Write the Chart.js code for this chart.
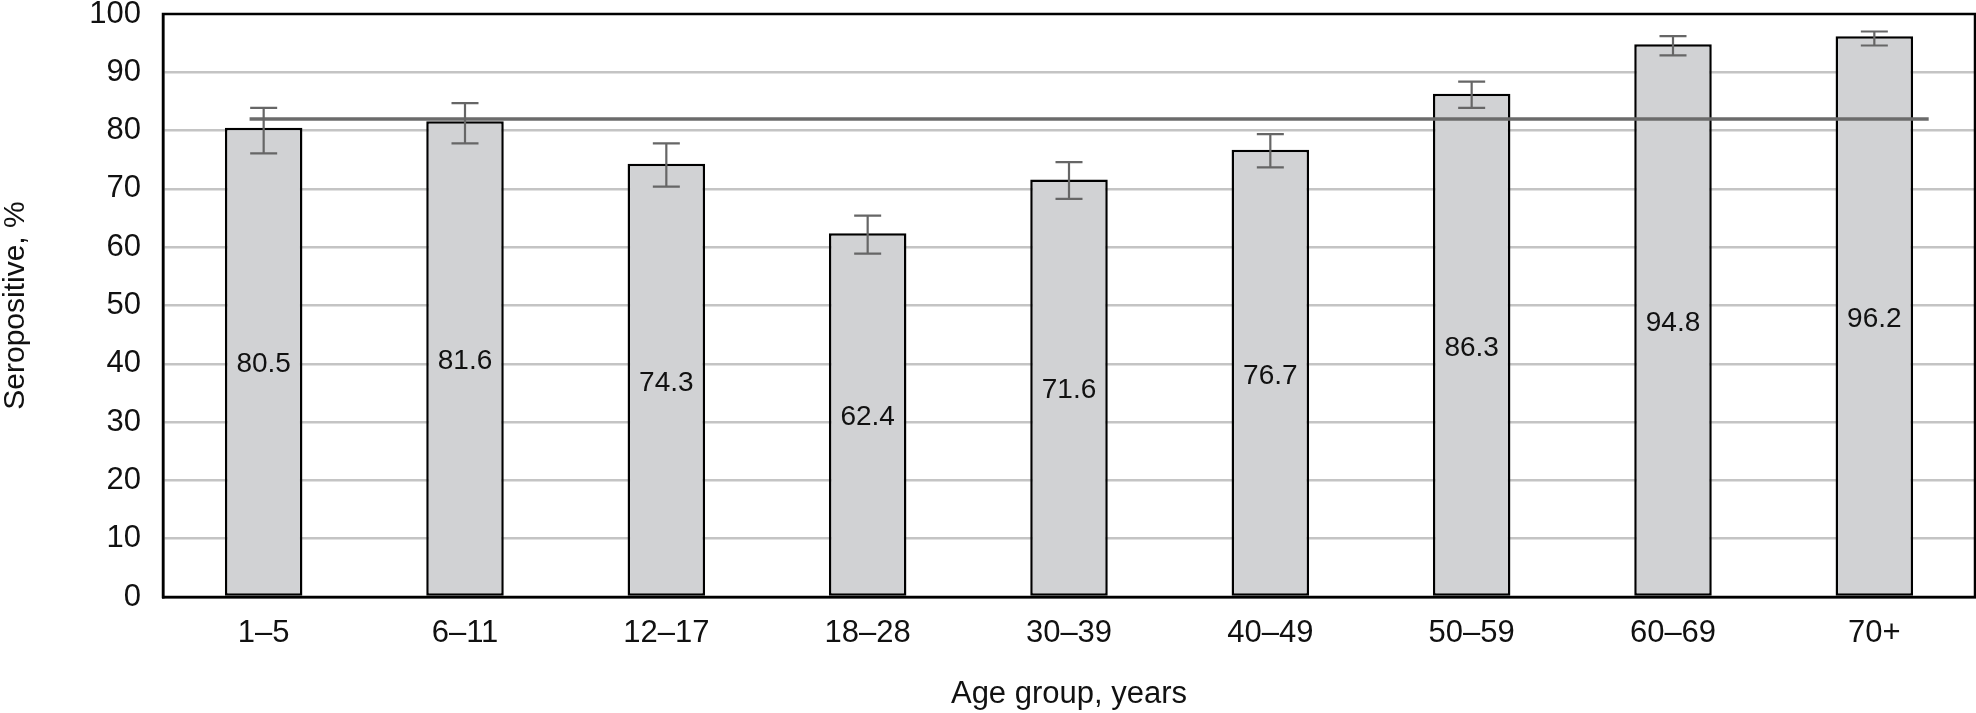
<!DOCTYPE html>
<html>
<head>
<meta charset="utf-8">
<script src="https://cdn.jsdelivr.net/npm/chart.js@4.4.1/dist/chart.umd.min.js"></script>
<style>
  html, body { margin: 0; padding: 0; background: #fff; }
  #wrap { width: 1976px; height: 713px; }
</style>
</head>
<body>
<div id="wrap"><canvas id="chart" width="1976" height="713"></canvas></div>
<script>
// values
const ageGroups = ["1\u20135", "6\u201311", "12\u201317", "18\u201328", "30\u201339", "40\u201349", "50\u201359", "60\u201369", "70+"];
const seropositive = [80.5, 81.6, 74.3, 62.4, 71.6, 76.7, 86.3, 94.8, 96.2];
const ciLow  = [76.1, 77.8, 70.4, 58.9, 68.3, 73.7, 83.9, 92.9, 94.6];
const ciHigh = [83.9, 84.7, 77.8, 65.4, 74.6, 79.4, 88.4, 96.2, 97.0];
const overallLevel = 82.0;
// reference line runs from just left of the first bar to past the last one (category index units)
const overallFrom = -0.07;
const overallTo = 8.27;
const yTicks = [0, 10, 20, 30, 40, 50, 60, 70, 80, 90, 100];

const FONT = '"Liberation Sans", Arial, sans-serif';

const overlay = {
  id: 'overlay',
  afterDatasetsDraw(chart) {
    const ctx = chart.ctx;
    const x = chart.scales.x;
    const y = chart.scales.y;
    const meta = chart.getDatasetMeta(0);
    ctx.save();

    // overall level line, on top of the bars
    const yl = y.getPixelForValue(overallLevel);
    ctx.strokeStyle = '#6b6b6b';
    ctx.lineWidth = 3.5;
    ctx.beginPath();
    ctx.moveTo(x.getPixelForValue(overallFrom), yl);
    ctx.lineTo(x.getPixelForValue(overallTo), yl);
    ctx.stroke();

    // 95% CI whiskers
    ctx.strokeStyle = '#666666';
    ctx.lineWidth = 2.2;
    meta.data.forEach((bar, i) => {
      const lo = y.getPixelForValue(ciLow[i]);
      const hi = y.getPixelForValue(ciHigh[i]);
      const half = 13.5;
      ctx.beginPath();
      ctx.moveTo(bar.x, lo); ctx.lineTo(bar.x, hi);
      ctx.moveTo(bar.x - half, lo); ctx.lineTo(bar.x + half, lo);
      ctx.moveTo(bar.x - half, hi); ctx.lineTo(bar.x + half, hi);
      ctx.stroke();
    });

    // value labels in the middle of each bar
    ctx.fillStyle = '#111';
    ctx.font = '28px ' + FONT;
    ctx.textAlign = 'center';
    ctx.textBaseline = 'middle';
    meta.data.forEach((bar, i) => {
      ctx.fillText(seropositive[i].toFixed(1), bar.x, (bar.y + bar.base) / 2 + 3);
    });
    ctx.restore();
  },
  afterDraw(chart) {
    const a = chart.chartArea;
    const ctx = chart.ctx;
    ctx.save();
    ctx.strokeStyle = '#000';
    ctx.lineWidth = 2.5;
    ctx.strokeRect(a.left, a.top, a.right - a.left, a.bottom - a.top);
    ctx.restore();
  }
};

const ctx = document.getElementById('chart').getContext('2d');
const chart = new Chart(ctx, {
  type: 'bar',
  data: {
    labels: ageGroups,
    datasets: [
      {
        data: seropositive,
        backgroundColor: '#d1d2d4',
        borderColor: '#000',
        borderWidth: 2.5,
        borderSkipped: false,
        grouped: false,
        categoryPercentage: 1.0,
        barPercentage: 0.385
      }
    ]
  },
  options: {
    responsive: false,
    animation: false,
    devicePixelRatio: 1,
    layout: { padding: { top: 14, right: 1, left: 0, bottom: 0 } },
    plugins: { legend: { display: false }, tooltip: { enabled: false } },
    scales: {
      x: {
        type: 'category',
        grid: { display: false, drawTicks: false },
        border: { color: '#000', width: 2.5 },
        ticks: { color: '#111', font: { family: FONT, size: 31 }, padding: 18, maxRotation: 0 },
        title: {
          display: true,
          text: 'Age group, years',
          color: '#111',
          font: { family: FONT, size: 31 },
          padding: { top: 18, bottom: 0 }
        },
        afterFit(scale) { scale.height = 116; scale.paddingLeft = 0; scale.paddingRight = 0; }
      },
      y: {
        min: 0,
        max: 100,
        afterBuildTicks(scale) { scale.ticks = yTicks.map(v => ({ value: v })); },
        grid: {
          drawTicks: false,
          color: c => (c.tick.value === 0 || c.tick.value === 100) ? 'rgba(0,0,0,0)' : '#c4c4c4',
          lineWidth: 2.5
        },
        border: { color: '#000', width: 2.5 },
        ticks: { color: '#111', font: { family: FONT, size: 31 }, padding: 22 },
        title: {
          display: true,
          text: 'Seropositive, %',
          color: '#111',
          font: { family: FONT, size: 30, lineHeight: 1 },
          padding: { top: 1, bottom: 0 }
        },
        afterFit(scale) { scale.width = 163; scale.paddingTop = 0; scale.paddingBottom = 0; }
      }
    }
  },
  plugins: [overlay]
});
</script>
</body>
</html>
